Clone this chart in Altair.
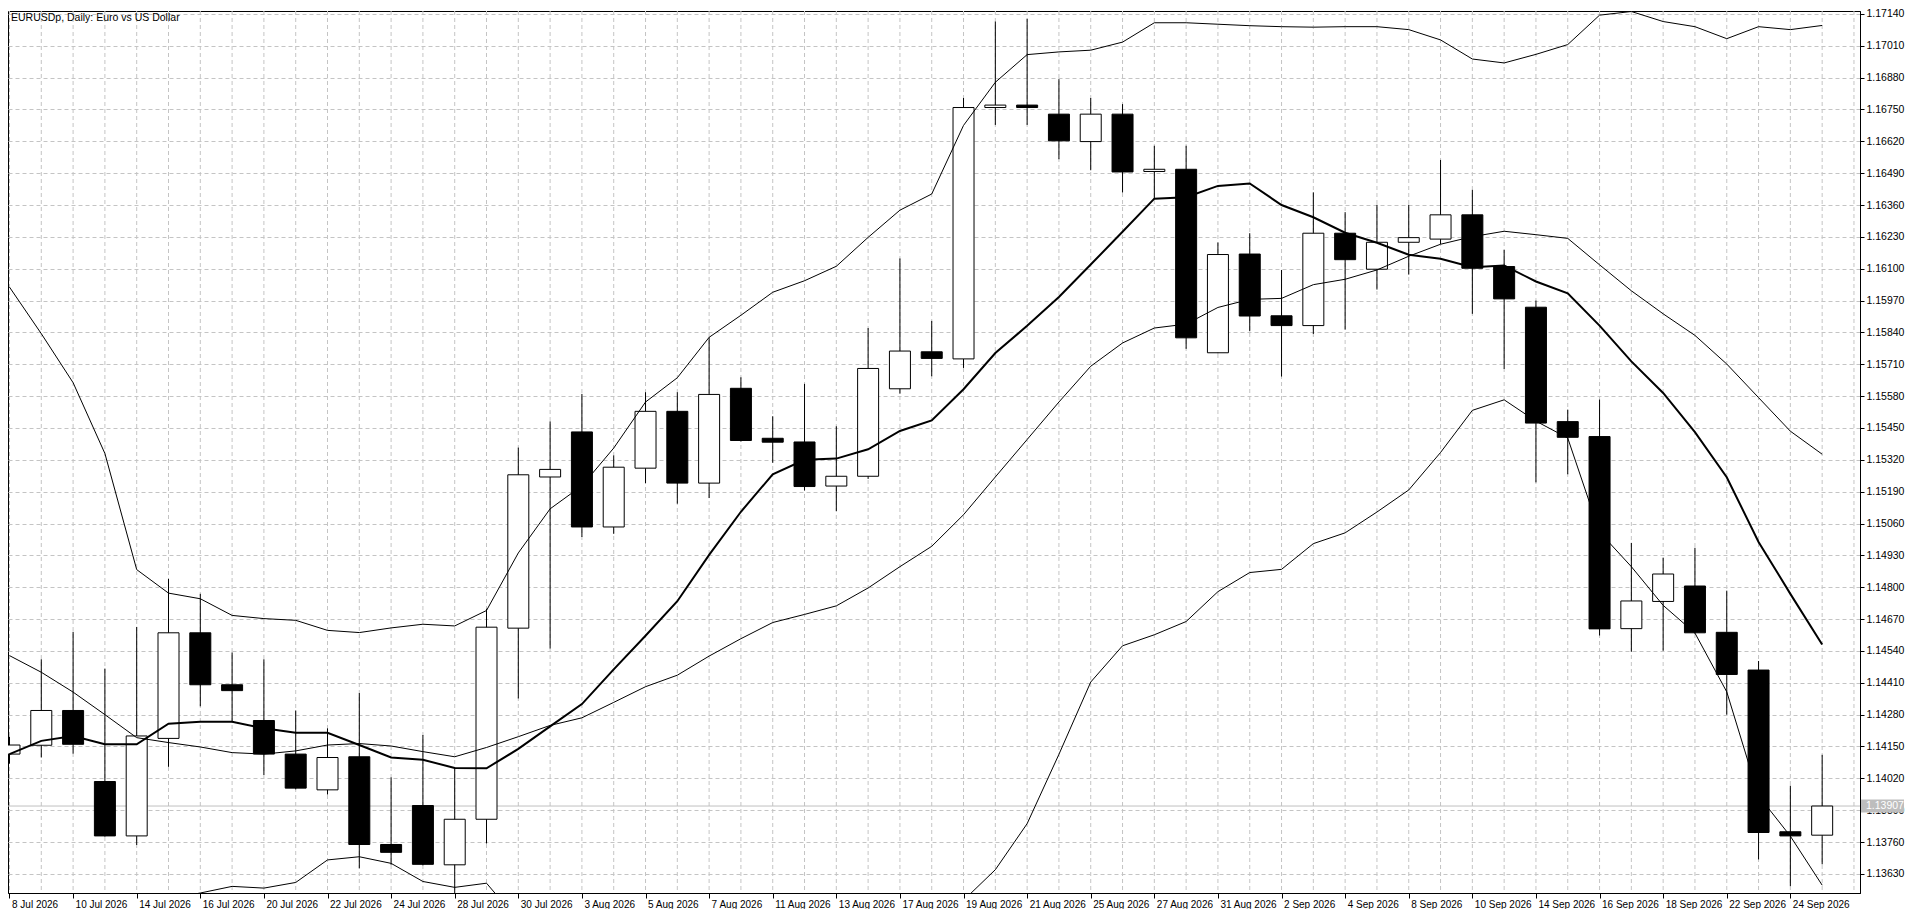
import altair as alt
import pandas as pd

# ---------------- data ----------------
dates = ["8 Jul 2026", "9 Jul 2026", "10 Jul 2026", "13 Jul 2026", "14 Jul 2026", "15 Jul 2026",
         "16 Jul 2026", "17 Jul 2026", "20 Jul 2026", "21 Jul 2026", "22 Jul 2026", "23 Jul 2026",
         "24 Jul 2026", "27 Jul 2026", "28 Jul 2026", "29 Jul 2026", "30 Jul 2026", "31 Jul 2026",
         "3 Aug 2026", "4 Aug 2026", "5 Aug 2026", "6 Aug 2026", "7 Aug 2026", "10 Aug 2026",
         "11 Aug 2026", "12 Aug 2026", "13 Aug 2026", "14 Aug 2026", "17 Aug 2026", "18 Aug 2026",
         "19 Aug 2026", "20 Aug 2026", "21 Aug 2026", "24 Aug 2026", "25 Aug 2026", "26 Aug 2026",
         "27 Aug 2026", "28 Aug 2026", "31 Aug 2026", "1 Sep 2026", "2 Sep 2026", "3 Sep 2026",
         "4 Sep 2026", "7 Sep 2026", "8 Sep 2026", "9 Sep 2026", "10 Sep 2026", "11 Sep 2026",
         "14 Sep 2026", "15 Sep 2026", "16 Sep 2026", "17 Sep 2026", "18 Sep 2026", "21 Sep 2026",
         "22 Sep 2026", "23 Sep 2026", "24 Sep 2026", "25 Sep 2026"]

opens = [1.14119, 1.14155, 1.14297, 1.14007, 1.13785, 1.14183, 1.14614, 1.14402, 1.14256, 1.14119,
         1.13973, 1.14108, 1.13750, 1.13909, 1.13667, 1.13853, 1.14633, 1.15250, 1.15434, 1.15046,
         1.15286, 1.15518, 1.15225, 1.15612, 1.15408, 1.15393, 1.15213, 1.15253, 1.15610, 1.15761,
         1.15732, 1.16758, 1.16768, 1.16731, 1.16619, 1.16731, 1.16497, 1.16506, 1.15757, 1.16160,
         1.15908, 1.15868, 1.16245, 1.16098, 1.16208, 1.16221, 1.16320, 1.16109, 1.15943, 1.15476,
         1.15415, 1.14631, 1.14742, 1.14805, 1.14616, 1.14462, 1.13802, 1.13788]

highs = [1.14190, 1.14506, 1.14618, 1.14468, 1.14638, 1.14834, 1.14773, 1.14534, 1.14506, 1.14297,
         1.14224, 1.14368, 1.14024, 1.14197, 1.14065, 1.14712, 1.15370, 1.15477, 1.15589, 1.15338,
         1.15596, 1.15596, 1.15820, 1.15657, 1.15498, 1.15630, 1.15457, 1.15858, 1.16142, 1.15887,
         1.16797, 1.17109, 1.17120, 1.16874, 1.16797, 1.16772, 1.16602, 1.16602, 1.16207, 1.16245,
         1.16095, 1.16412, 1.16331, 1.16361, 1.16361, 1.16544, 1.16422, 1.16177, 1.15970, 1.15525,
         1.15566, 1.14981, 1.14920, 1.14961, 1.14786, 1.14499, 1.13990, 1.14116]

lows = [1.14080, 1.14105, 1.14121, 1.13782, 1.13748, 1.14067, 1.14314, 1.14249, 1.14034, 1.13975,
        1.13954, 1.13653, 1.13667, 1.13665, 1.13552, 1.13754, 1.14346, 1.14550, 1.15005, 1.15018,
        1.15225, 1.15141, 1.15164, 1.15395, 1.15308, 1.15195, 1.15111, 1.15242, 1.15590, 1.15661,
        1.15695, 1.16687, 1.16687, 1.16547, 1.16502, 1.16411, 1.16384, 1.15773, 1.15755, 1.15845,
        1.15660, 1.15834, 1.15852, 1.16015, 1.16076, 1.16201, 1.15916, 1.15691, 1.15228, 1.15261,
        1.14603, 1.14537, 1.14541, 1.14611, 1.14280, 1.13689, 1.13580, 1.13669]

closes = [1.14156, 1.14297, 1.14159, 1.13785, 1.14193, 1.14614, 1.14402, 1.14378, 1.14119, 1.13980,
          1.14105, 1.13750, 1.13718, 1.13669, 1.13853, 1.14637, 1.15259, 1.15281, 1.15046, 1.15290,
          1.15518, 1.15225, 1.15587, 1.15399, 1.15392, 1.15211, 1.15253, 1.15693, 1.15764, 1.15734,
          1.16758, 1.16768, 1.16758, 1.16622, 1.16731, 1.16495, 1.16506, 1.15818, 1.16158, 1.15907,
          1.15868, 1.16245, 1.16137, 1.16208, 1.16227, 1.16320, 1.16102, 1.15977, 1.15470, 1.15412,
          1.14630, 1.14744, 1.14854, 1.14614, 1.14444, 1.13799, 1.13785, 1.13907]

# thick moving average
ma_fast = [1.14119, 1.14173, 1.14193, 1.14159, 1.14159, 1.14243, 1.14251, 1.14251, 1.14224, 1.14206,
           1.14206, 1.14156, 1.14105, 1.14096, 1.14062, 1.14061, 1.14140, 1.14232, 1.14323, 1.14465,
           1.14602, 1.14743, 1.14932, 1.15108, 1.15261, 1.15320, 1.15325, 1.15363, 1.15438, 1.15481,
           1.15608, 1.15756, 1.15867, 1.15985, 1.16117, 1.16251, 1.16386, 1.16392, 1.16438, 1.16448,
           1.16360, 1.16310, 1.16247, 1.16206, 1.16157, 1.16141, 1.16106, 1.16113, 1.16048, 1.16000,
           1.15868, 1.15722, 1.15593, 1.15433, 1.15249, 1.14985, 1.14773, 1.14566]

# Bollinger bands (thin lines)
bb_mid = [1.14521, 1.14453, 1.14372, 1.14280, 1.14186, 1.14166, 1.14148, 1.14125, 1.14119, 1.14132,
          1.14156, 1.14162, 1.14152, 1.14129, 1.14108, 1.14146, 1.14190, 1.14236, 1.14267, 1.14330,
          1.14394, 1.14441, 1.14519, 1.14590, 1.14656, 1.14689, 1.14724, 1.14797, 1.14884, 1.14967,
          1.15096, 1.15250, 1.15403, 1.15556, 1.15702, 1.15797, 1.15858, 1.15874, 1.15942, 1.15975,
          1.15979, 1.16035, 1.16057, 1.16095, 1.16151, 1.16200, 1.16231, 1.16253, 1.16239, 1.16224,
          1.16116, 1.16010, 1.15916, 1.15828, 1.15711, 1.15574, 1.15437, 1.15343]

bb_up = [1.16025, 1.15835, 1.15635, 1.15346, 1.14872, 1.14776, 1.14753, 1.14685, 1.14672, 1.14665,
         1.14624, 1.14615, 1.14634, 1.14649, 1.14642, 1.14705, 1.14940, 1.15120, 1.15214, 1.15368,
         1.15556, 1.15655, 1.15820, 1.15910, 1.16004, 1.16051, 1.16110, 1.16228, 1.16339, 1.16405,
         1.16685, 1.16861, 1.16974, 1.16985, 1.16992, 1.17025, 1.17104, 1.17104, 1.17098, 1.17092,
         1.17088, 1.17086, 1.17088, 1.17088, 1.17076, 1.17034, 1.16956, 1.16940, 1.16975, 1.17015,
         1.17135, 1.17150, 1.17109, 1.17088, 1.17039, 1.17088, 1.17076, 1.17093]

bb_low = [1.13017, 1.13071, 1.13109, 1.13214, 1.13420, 1.13528, 1.13552, 1.13579, 1.13572, 1.13595,
          1.13687, 1.13700, 1.13673, 1.13599, 1.13575, 1.13592, 1.13440, 1.13352, 1.13320, 1.13292,
          1.13232, 1.13227, 1.13218, 1.13270, 1.13308, 1.13327, 1.13338, 1.13366, 1.13429, 1.13529,
          1.13522, 1.13647, 1.13835, 1.14118, 1.14413, 1.14561, 1.14606, 1.14660, 1.14782, 1.14860,
          1.14873, 1.14978, 1.15022, 1.15107, 1.15197, 1.15350, 1.15522, 1.15565, 1.15478, 1.15409,
          1.15025, 1.14884, 1.14726, 1.14613, 1.14373, 1.13949, 1.13784, 1.13584]

y_ticks = [1.13630, 1.13760, 1.13890, 1.14020, 1.14150, 1.14280, 1.14410, 1.14540, 1.14670, 1.14800,
           1.14930, 1.15060, 1.15190, 1.15320, 1.15450, 1.15580, 1.15710, 1.15840, 1.15970, 1.16100,
           1.16230, 1.16360, 1.16490, 1.16620, 1.16750, 1.16880, 1.17010, 1.17140]

last_price = [1.13907]
title_text = ["EURUSDp, Daily:  Euro vs US Dollar"]

# ---------------- tables ----------------
n = len(dates)
df = pd.DataFrame({"i": list(range(n)), "date": dates, "open": opens, "high": highs,
                   "low": lows, "close": closes, "ma": ma_fast, "mid": bb_mid,
                   "up": bb_up, "lo": bb_low})
df["dir"] = ["up" if c >= o else "down" for o, c in zip(opens, closes)]
grid_df = pd.DataFrame({"i": list(range(n + 1))})
price_df = pd.DataFrame({"p": last_price})
title_df = pd.DataFrame({"t": title_text})

# ---------------- layout ----------------
W, H = 1852, 882
FONT = "Liberation Sans"
xscale = alt.Scale(domain=[-0.047, 58.19], nice=False, zero=False)
yscale = alt.Scale(domain=[1.13552, 1.17152], nice=False, zero=False)

label_expr = "[" + ",".join("'%s'" % d for d in dates) + "][datum.value]"
xaxis = alt.Axis(values=list(range(0, n, 2)), labelExpr=label_expr, grid=False,
                 labelAlign="left", labelOffset=2, labelPadding=1, tickSize=5,
                 labelFlush=False, labelOverlap=False, labelFontSize=10, title=None)
yaxis = alt.Axis(values=y_ticks, format=".5f", orient="right", grid=True,
                 gridColor="#c4c4c4", gridDash=[4, 3], gridWidth=1,
                 tickSize=4, labelPadding=2, labelFlush=False, labelOverlap=False,
                 labelFontSize=10.5, title=None)


def X(field="i"):
    return alt.X(field + ":Q", scale=xscale, axis=xaxis, title=None)


def Y(field):
    return alt.Y(field + ":Q", scale=yscale, axis=yaxis, title=None)


vgrid = alt.Chart(grid_df).mark_rule(color="#c4c4c4", strokeDash=[4, 3], strokeWidth=1).encode(
    x=X())

price_line = alt.Chart(price_df).mark_rule(color="#c0c0c0", strokeWidth=1).encode(y=Y("p"))

wicks = alt.Chart(df).mark_rule(color="black", strokeWidth=1, clip=True).encode(
    x=X(), y=Y("low"), y2="high:Q")

bodies = alt.Chart(df).mark_rect(stroke="black", strokeWidth=1, clip=True,
                                 xOffset=-10.5, x2Offset=10.5).encode(
    x=X(), x2="i:Q", y=Y("open"), y2="close:Q",
    fill=alt.Fill("dir:N", scale=alt.Scale(domain=["up", "down"], range=["white", "black"]),
                  legend=None))


def band(field, width):
    return alt.Chart(df).mark_line(color="black", strokeWidth=width, clip=True).encode(
        x=X(), y=Y(field))


title_mark = alt.Chart(title_df).mark_text(align="left", baseline="top", font=FONT,
                                           fontSize=10.5, color="black").encode(
    x=alt.value(3), y=alt.value(2), text="t:N")

price_box = alt.Chart(price_df).mark_rect(color="#bdbdbd", clip=False,
                                          yOffset=-6.5, y2Offset=6.5).encode(
    x=alt.value(W + 1), x2=alt.value(W + 44), y=Y("p"), y2="p:Q")

price_text = alt.Chart(price_df).mark_text(align="left", baseline="middle", color="white",
                                           font=FONT, fontSize=10.5, clip=False).encode(
    x=alt.value(W + 6), y=Y("p"), text=alt.Text("p:Q", format=".5f"))

chart = alt.layer(
    vgrid, price_line, wicks, bodies,
    band("up", 1), band("mid", 1), band("lo", 1), band("ma", 2),
    title_mark, price_box, price_text
).properties(
    width=W, height=H,
    autosize=alt.AutoSizeParams(type="none"),
    padding={"left": 0, "top": 3, "right": 48, "bottom": 16},
    background="white",
).configure_view(
    stroke="black", strokeWidth=1
).configure_axis(
    domainColor="black", tickColor="black", labelColor="black", labelFont=FONT,
    domainWidth=1, tickWidth=1
)

chart.save("out.html", embed_options={"renderer": "svg", "actions": False})
